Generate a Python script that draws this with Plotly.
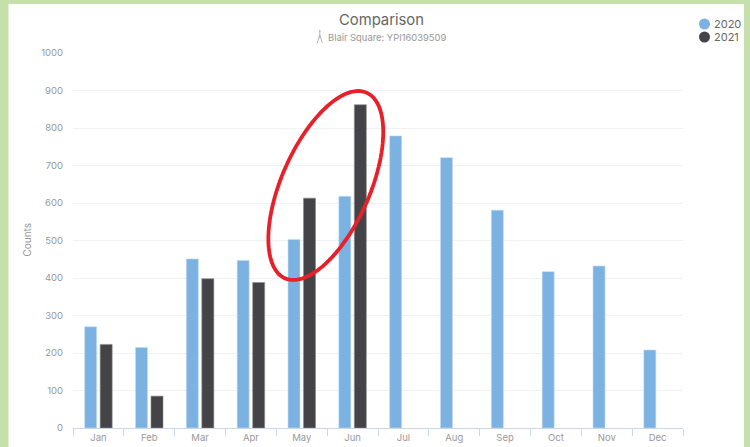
import numpy as np
import plotly.graph_objects as go

months = ["Jan", "Feb", "Mar", "Apr", "May", "Jun", "Jul", "Aug", "Sep", "Oct", "Nov", "Dec"]
counts_2020 = [270, 215, 451, 447, 503, 618, 779, 721, 581, 417, 432, 208]
counts_2021 = [223, 85, 398, 388, 613, 862, None, None, None, None, None, None]
y_ticks = list(range(0, 1001, 100))

W, H = 750, 447
L, R, T, B = 72.5, 683, 53, 428
FONT = "Inter, Lato, sans-serif"
BLUE, DARK = "#7cb2e2", "#434348"
GREY = "#989898"


def px(x):
    return (x - L) / (R - L)


def py(y):
    return (B - y) / (B - T)


fig = go.Figure()
fig.add_bar(x=months, y=counts_2020, name="2020", marker=dict(color=BLUE, line=dict(color="#c4dcf2", width=0.6)), showlegend=False)
fig.add_bar(x=months, y=counts_2021, name="2021", marker=dict(color=DARK, line=dict(color="#8a8a8e", width=0.6)), showlegend=False)

# hand-drawn highlight ring
t = np.linspace(0, 2 * np.pi, 120)
d = np.arccos(32.5 / 57.5)
ex = 325.5 + 57.5 * np.cos(t - d)
ey = 185.5 - 94.5 * np.cos(t)
ring = "M " + " L ".join(f"{px(a):.5f},{py(b):.5f}" for a, b in zip(ex, ey)) + " Z"

# small pedestrian icon next to the subtitle
icon = [((319.5, 32), (319.5, 37)), ((319.5, 35), (317, 43)), ((319.5, 35), (322, 43)), ((319.5, 37), (317.5, 38.5))]
shapes = [
    dict(type="rect", xref="paper", yref="paper", x0=px(8), x1=px(744), y0=py(4), y1=py(447),
         fillcolor="white", line=dict(width=0), layer="below"),
    dict(type="path", xref="paper", yref="paper", path=ring, line=dict(color="#e8202a", width=3.8), layer="above"),
    dict(type="circle", xref="paper", yref="paper", x0=px(318.7), x1=px(320.3), y0=py(30), y1=py(31.8),
         fillcolor="#a5a5a5", line=dict(width=0)),
]
for (a, b), (c, e) in icon:
    shapes.append(dict(type="line", xref="paper", yref="paper", x0=px(a), y0=py(b), x1=px(c), y1=py(e),
                       line=dict(color="#a5a5a5", width=0.8)))

annotations = [
    dict(text="Comparison", xref="paper", yref="paper", x=px(381), y=py(20), showarrow=False,
         font=dict(family=FONT, size=14.8, color="#666666"), xanchor="center", yanchor="middle"),
    dict(text="Blair Square: YPI16039509", xref="paper", yref="paper", x=px(326), y=py(37.5), showarrow=False,
         font=dict(family=FONT, size=9.4, color=GREY), xanchor="left", yanchor="middle"),
    dict(text="Counts", xref="paper", yref="paper", x=px(26), y=py(240), showarrow=False, textangle=-90,
         font=dict(family=FONT, size=10, color=GREY), xanchor="center", yanchor="middle"),
]

# compact legend with round keys
for name, col, yy in [("2020", BLUE, 24), ("2021", DARK, 37)]:
    shapes.append(dict(type="circle", xref="paper", yref="paper", x0=px(699), x1=px(710), y0=py(yy - 5.5), y1=py(yy + 5.5),
                       fillcolor=col, line=dict(width=0)))
    annotations.append(dict(text=name, xref="paper", yref="paper", x=px(712), y=py(yy), showarrow=False,
                            font=dict(family=FONT, size=11, color="#666666"), xanchor="left", yanchor="middle"))

fig.update_layout(
    width=W, height=H,
    autosize=False,
    margin=dict(l=L, r=W - R, t=T, b=H - B, autoexpand=False, pad=0),
    paper_bgcolor="#c6e0ac",
    plot_bgcolor="white",
    barmode="group",
    bargap=0.39,
    bargroupgap=0.226,
    showlegend=False,
    font=dict(family=FONT, color=GREY, size=9.5),
    shapes=shapes,
    annotations=annotations,
    xaxis=dict(type="category", categoryorder="array", categoryarray=months, tickson="boundaries",
               ticks="outside", ticklen=7, tickcolor="#ccd6eb", tickwidth=1, showline=True, linecolor="#ccd6eb",
               linewidth=1, showgrid=False, zeroline=False, ticklabelstandoff=1,
               tickfont=dict(family=FONT, size=9.5, color=GREY)),
    yaxis=dict(range=[0, 1000], tickvals=y_ticks, ticks="", showline=False, gridcolor="#f0f1f4", gridwidth=1,
               zeroline=False, ticklabelstandoff=9, tickfont=dict(family=FONT, size=9.5, color=GREY)),
)

fig.write_html("out.html", config={"displayModeBar": False},
               post_script="document.body.style.margin='0';document.body.style.overflow='hidden';")
